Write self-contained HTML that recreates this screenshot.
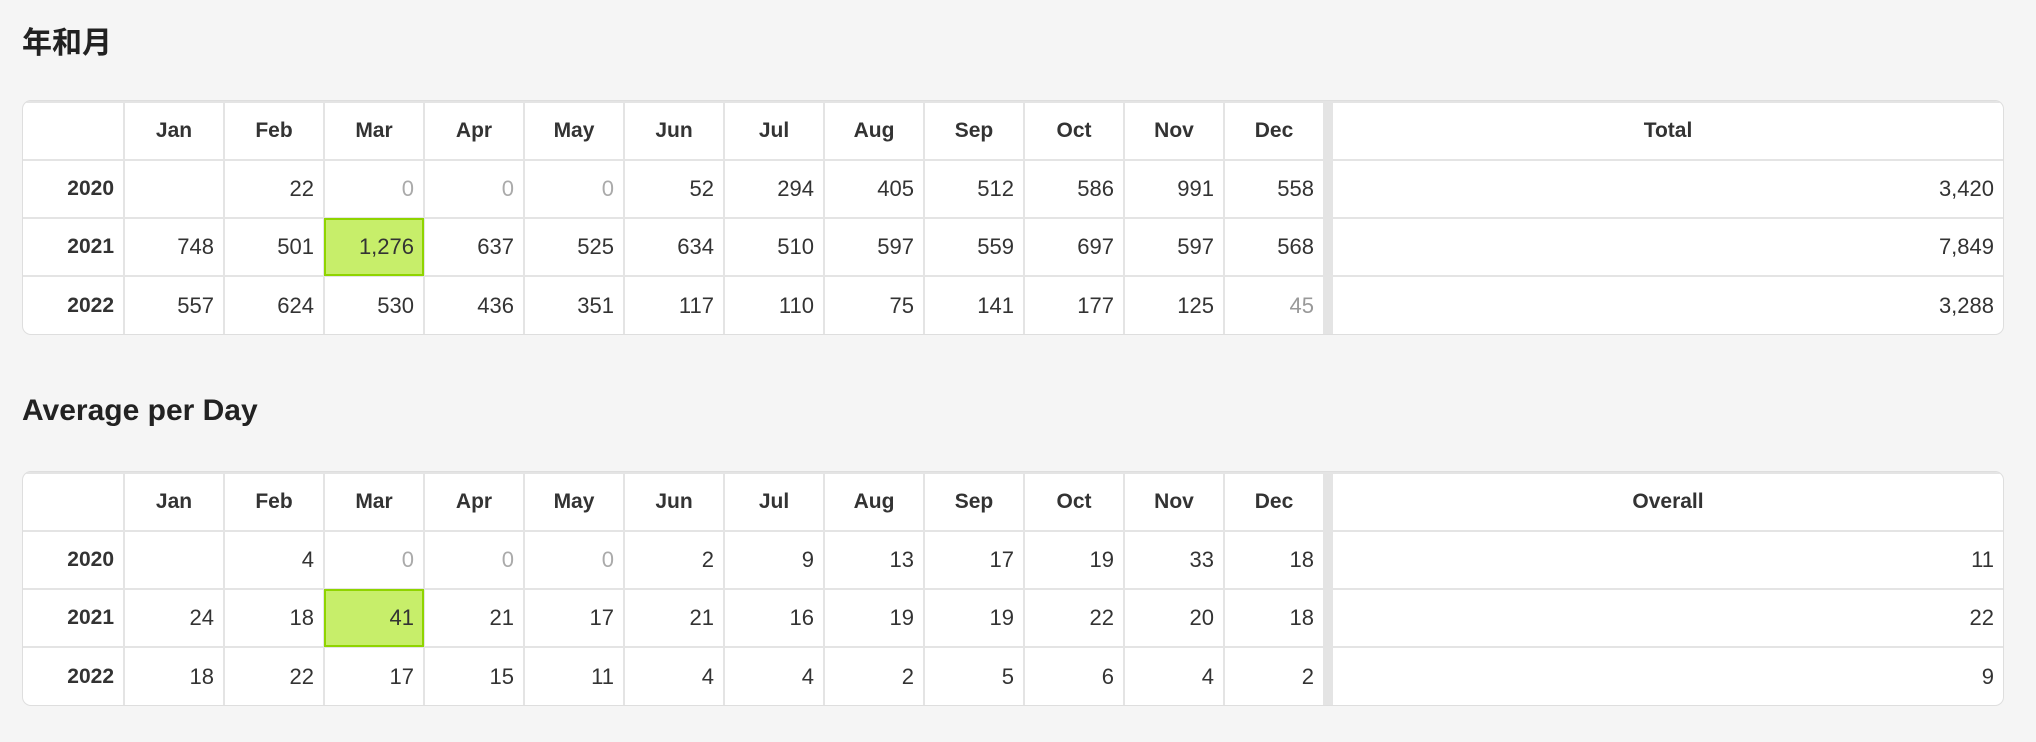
<!DOCTYPE html>
<html><head><meta charset="utf-8">
<style>
html,body{margin:0;padding:0;background:#f5f5f5;width:2036px;height:742px;overflow:hidden;font-family:"Liberation Sans","Noto Sans CJK SC",sans-serif;color:#333;}
h2{position:absolute;left:22px;margin:0;font-size:30px;font-weight:bold;color:#222;}
.tbl{position:absolute;left:22px;width:1982px;background:#fff;border:1.5px solid #dedede;border-radius:9px;overflow:hidden;box-sizing:border-box;}
table{border-collapse:collapse;table-layout:fixed;width:100%;}
td,th{border:2px solid #e4e4e4;height:58px;padding:0 9px;font-size:22px;text-align:right;box-sizing:border-box;}
th{text-align:center;font-weight:bold;color:#333;font-size:21px;}
tr:first-child th,tr:first-child td{border-top:none}
tr:last-child td,tr:last-child th{border-bottom:none}
td:first-child,th:first-child{border-left:none}
td:last-child,th:last-child{border-right:none}
.div{padding:0;background:#e4e4e4;border-left:none;border-right:none;}
.zero{color:#aaa}
.part{color:#999}
.hi{background:#c7ee6a;outline:2px solid #8fd400;outline-offset:-2px;}
</style></head><body>
<h2 style="top:18px">年和月</h2>
<div class="tbl" style="top:100px"><table id="t1"></table></div>
<h2 style="top:394px">Average per Day</h2>
<div class="tbl" style="top:471px"><table id="t2"></table></div>
<script>
const months=["Jan","Feb","Mar","Apr","May","Jun","Jul","Aug","Sep","Oct","Nov","Dec"];
const years=["2020","2021","2022"];
const totals2020=[null,22,0,0,0,52,294,405,512,586,991,558];
const totals2021=[748,501,1276,637,525,634,510,597,559,697,597,568];
const totals2022=[557,624,530,436,351,117,110,75,141,177,125,45];
const totalSums=[3420,7849,3288];
const avg2020=[null,4,0,0,0,2,9,13,17,19,33,18];
const avg2021=[24,18,41,21,17,21,16,19,19,22,20,18];
const avg2022=[18,22,17,15,11,4,4,2,5,6,4,2];
const avgOverall=[11,22,9];
function fmt(v){return v==null?"":v.toLocaleString("en-US");}
function build(id,rows,sums,label,maxIdx,partial){
  const t=document.getElementById(id);
  const cg=document.createElement("colgroup");
  let h='<col style="width:101px">';
  for(let i=0;i<12;i++)h+='<col style="width:100px">';
  h+='<col style="width:8px"><col>';
  cg.innerHTML=h;t.appendChild(cg);
  const hr=document.createElement("tr");
  
  
  hr.innerHTML='<th></th>'+months.map(m=>'<th>'+m+'</th>').join('')+'<td class="div"></td><th>'+label+'</th>';
  t.appendChild(hr);
  rows.forEach((r,ri)=>{
    const tr=document.createElement("tr");
    
    
    let s='<th style="text-align:right">'+years[ri]+'</th>';
    r.forEach((v,ci)=>{
      let c='';
      if(v===0)c='zero';
      if(ri===maxIdx[0]&&ci===maxIdx[1])c='hi';
      if(partial&&ri===2&&ci===11)c='part';
      s+='<td class="'+c+'">'+fmt(v)+'</td>';
    });
    s+='<td class="div"></td><td>'+fmt(sums[ri])+'</td>';
    tr.innerHTML=s;t.appendChild(tr);
  });
}
build("t1",[totals2020,totals2021,totals2022],totalSums,"Total",[1,2],true);
build("t2",[avg2020,avg2021,avg2022],avgOverall,"Overall",[1,2],false);
</script>
</body></html>
